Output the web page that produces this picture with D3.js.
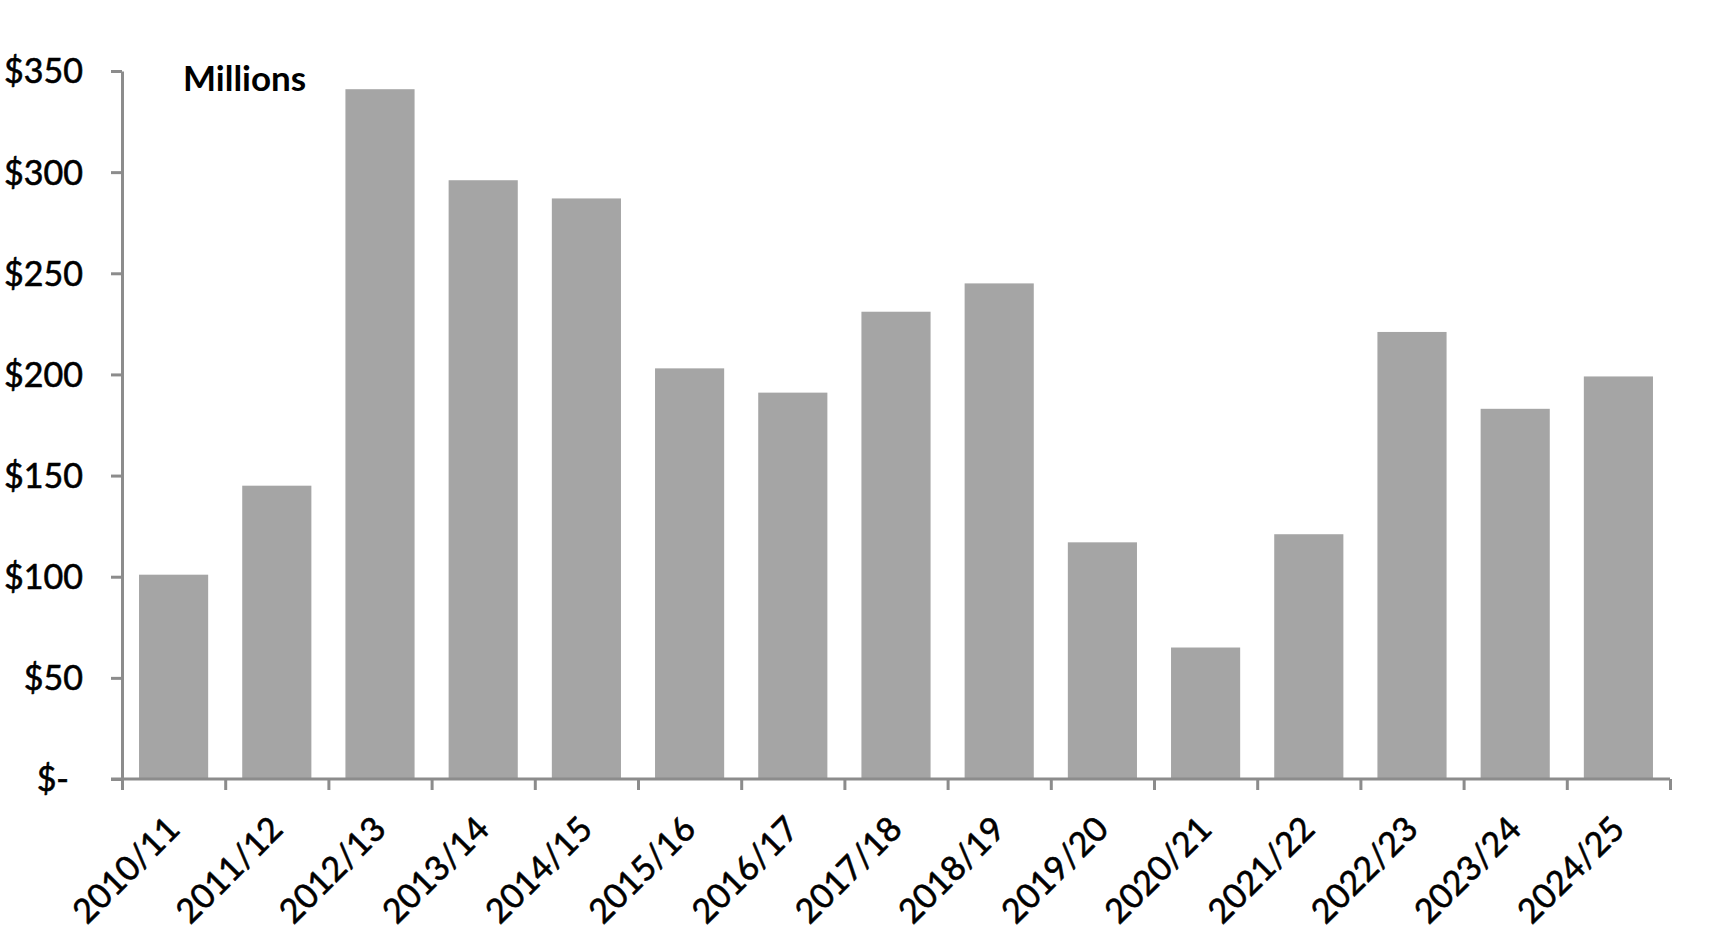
<!DOCTYPE html>
<html>
<head>
<meta charset="utf-8">
<script src="https://cdn.jsdelivr.net/npm/d3@7"></script>
<style>
  body { margin: 0; background: #fff; }
  svg text { font-family: Lato, "Open Sans", sans-serif; fill: #000; }
</style>
</head>
<body>
<div id="chart"></div>
<script>
// fiscal years on the x axis
var years = ["2010/11", "2011/12", "2012/13", "2013/14", "2014/15", "2015/16", "2016/17", "2017/18",
             "2018/19", "2019/20", "2020/21", "2021/22", "2022/23", "2023/24", "2024/25"];
// amounts in millions of dollars
var amounts = [101, 145, 341, 296, 287, 203, 191, 231, 245, 117, 65, 121, 221, 183, 199];
// y tick values
var yTicks = [0, 50, 100, 150, 200, 250, 300, 350];

const w = 1734;
const h = 935;
const plotLeft = 122, plotRight = 1670, plotTop = 71, plotBottom = 779;

const svg = d3.select("#chart")
              .append("svg")
              .attr("width", w)
              .attr("height", h);

const xScale = d3.scaleBand()
                 .domain(years)
                 .range([plotLeft, plotRight])
                 .paddingInner(0.33)
                 .paddingOuter(0.165);

// edges between categories, used for the tick marks
const xEdge = d3.scaleLinear()
                .domain([0, years.length])
                .range([plotLeft, plotRight]);

const yScale = d3.scaleLinear()
                 .domain([0, 350])
                 .range([plotBottom, plotTop]);

// bars
svg.selectAll("rect.bar")
   .data(amounts)
   .enter()
   .append("rect")
   .attr("class", "bar")
   .attr("x", (d, i) => xScale(years[i]))
   .attr("y", d => yScale(d))
   .attr("width", xScale.bandwidth())
   .attr("height", d => yScale(0) - yScale(d))
   .style("fill", "#a5a5a5");

// y axis
const yAxis = d3.axisLeft(yScale)
                .tickValues(yTicks)
                .tickSize(11)
                .tickSizeOuter(0)
                .tickPadding(28)
                .tickFormat(d => d === 0 ? "$-" : "$" + d);

const gy = svg.append("g")
   .attr("transform", "translate(" + plotLeft + ",0)")
   .call(yAxis);
gy.selectAll("path, line").attr("stroke", "#8c8c8c").attr("stroke-width", 3);
gy.selectAll("text")
  .style("font-size", "34px")
  .style("stroke", "#000")
  .style("stroke-width", "0.6px")
  .attr("dy", "0.35em")
  .attr("dx", d => d === 0 ? -14 : 0);

// x axis line and edge ticks
const xAxis = d3.axisBottom(xEdge)
                .ticks(years.length)
                .tickSize(11)
                .tickSizeOuter(0)
                .tickFormat("");

const gx = svg.append("g")
   .attr("transform", "translate(0," + plotBottom + ")")
   .call(xAxis);
gx.select("path.domain").attr("d", "M" + (plotLeft - 11) + ",0H" + plotRight);
gx.selectAll("path, line").attr("stroke", "#8c8c8c").attr("stroke-width", 3);

// category labels, rotated
const labelAxis = d3.axisBottom(xScale).tickSize(0);
const gl = svg.append("g")
   .attr("transform", "translate(0," + plotBottom + ")")
   .call(labelAxis);
gl.select("path.domain").remove();
gl.selectAll("text")
  .style("font-size", "34px")
  .style("stroke", "#000")
  .style("stroke-width", "0.6px")
  .attr("text-anchor", "end")
  .attr("x", 0)
  .attr("y", 0)
  .attr("dy", 0)
  .attr("transform", "translate(8,52) rotate(-45)");

// units label
svg.append("text")
   .attr("x", 183)
   .attr("y", 91)
   .style("font-size", "35px")
   .style("font-weight", "bold")
   .text("Millions");
</script>
</body>
</html>
